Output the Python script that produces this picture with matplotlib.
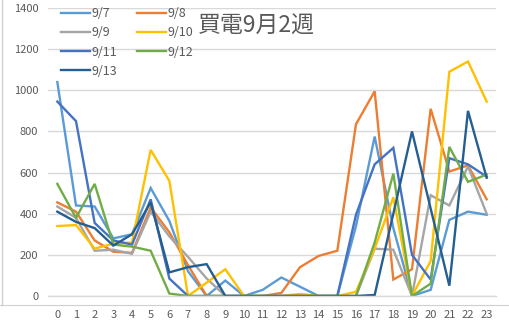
import matplotlib
matplotlib.use("Agg")
import matplotlib.pyplot as plt
from matplotlib.lines import Line2D

plt.rcParams['font.family'] = ['Noto Sans CJK JP', 'DejaVu Sans']

hours = list(range(24))
labels = ["9/7", "9/8", "9/9", "9/10", "9/11", "9/12", "9/13"]
colors = ["#5B9BD5", "#ED7D31", "#A5A5A5", "#FFC000", "#4472C4", "#70AD47", "#255E91"]

d0907 = [1040, 440, 435, 280, 300, 525, 365, 120, 0, 75, 0, 30, 90, 45, 0, 0, 340, 775, 330, 0, 30, 370, 410, 395]
d0908 = [455, 410, 270, 215, 210, 430, 310, 150, 0, 0, 0, 0, 15, 140, 195, 220, 835, 995, 80, 130, 910, 605, 635, 470]
d0909 = [435, 380, 220, 225, 205, 410, 290, 190, 85, 0, 0, 0, 0, 0, 0, 0, 0, 230, 225, 0, 490, 440, 630, 400]
d0910 = [340, 345, 230, 255, 260, 710, 560, 0, 65, 130, 0, 0, 0, 10, 0, 0, 20, 230, 480, 0, 170, 1090, 1140, 945]
d0911 = [945, 850, 355, 270, 250, 470, 85, 0, 0, 0, 0, 0, 0, 0, 0, 0, 395, 640, 720, 200, 80, 670, 640, 580]
d0912 = [545, 380, 545, 250, 240, 220, 12, 0, 0, 0, 0, 0, 0, 0, 0, 0, 0, 260, 595, 0, 60, 725, 555, 590]
d0913 = [410, 360, 330, 245, 300, 455, 115, 140, 155, 0, 0, 0, 0, 0, 0, 0, 0, 5, 400, 800, 425, 50, 900, 575]
series = [d0907, d0908, d0909, d0910, d0911, d0912, d0913]

title = "買電9月2週"
text_color = "#595959"
grid_color = "#D9D9D9"

fig = plt.figure(figsize=(5.10, 3.24), dpi=100)
ax = fig.add_axes([48 / 510, 1 - 296 / 324, 448 / 510, 288 / 324])

lines = []
for vals, lab, col in zip(series, labels, colors):
    ln, = ax.plot(hours, vals, color=col, lw=1.7, label=lab, solid_joinstyle='miter')
    lines.append(ln)

ax.set_xlim(-0.5, 23.5)
ax.set_ylim(0, 1400)
ax.set_yticks(range(0, 1401, 200))
ax.set_xticks(hours)
ax.grid(axis='y', color=grid_color, lw=1.0)
ax.set_axisbelow(True)
for s in ['top', 'right', 'left']:
    ax.spines[s].set_visible(False)
ax.spines['bottom'].set_color(grid_color)
ax.spines['bottom'].set_linewidth(1.0)
ax.tick_params(axis='both', length=0, labelsize=8, labelcolor=text_color)
ax.tick_params(axis='y', pad=7)
ax.tick_params(axis='x', pad=10)

# legend arranged column-wise: left column odd entries, right column even entries
order = [0, 2, 4, 6, 1, 3, 5]
leg = fig.legend([lines[i] for i in order], [labels[i] for i in order],
                 ncol=2, frameon=False, loc='upper left',
                 bbox_to_anchor=(61 / 510, 1 - 7 / 324), fontsize=9,
                 handlelength=2.3, handletextpad=0.15, columnspacing=1.6,
                 labelspacing=0.5, borderpad=0, borderaxespad=0)
for t in leg.get_texts():
    t.set_color(text_color)

fig.text(256 / 510, 1 - 26 / 324, title, fontsize=16.5, color=text_color,
         ha='center', va='center')

# worksheet frame lines around the chart object
fig.add_artist(Line2D([2 / 510, 2 / 510], [1 - 305 / 324, 1], color="#D0D0D0", lw=1.0))
fig.add_artist(Line2D([0, 1], [1 - 305 / 324, 1 - 305 / 324], color="#D0D0D0", lw=0.8))

fig.savefig("out.png", dpi=100)
